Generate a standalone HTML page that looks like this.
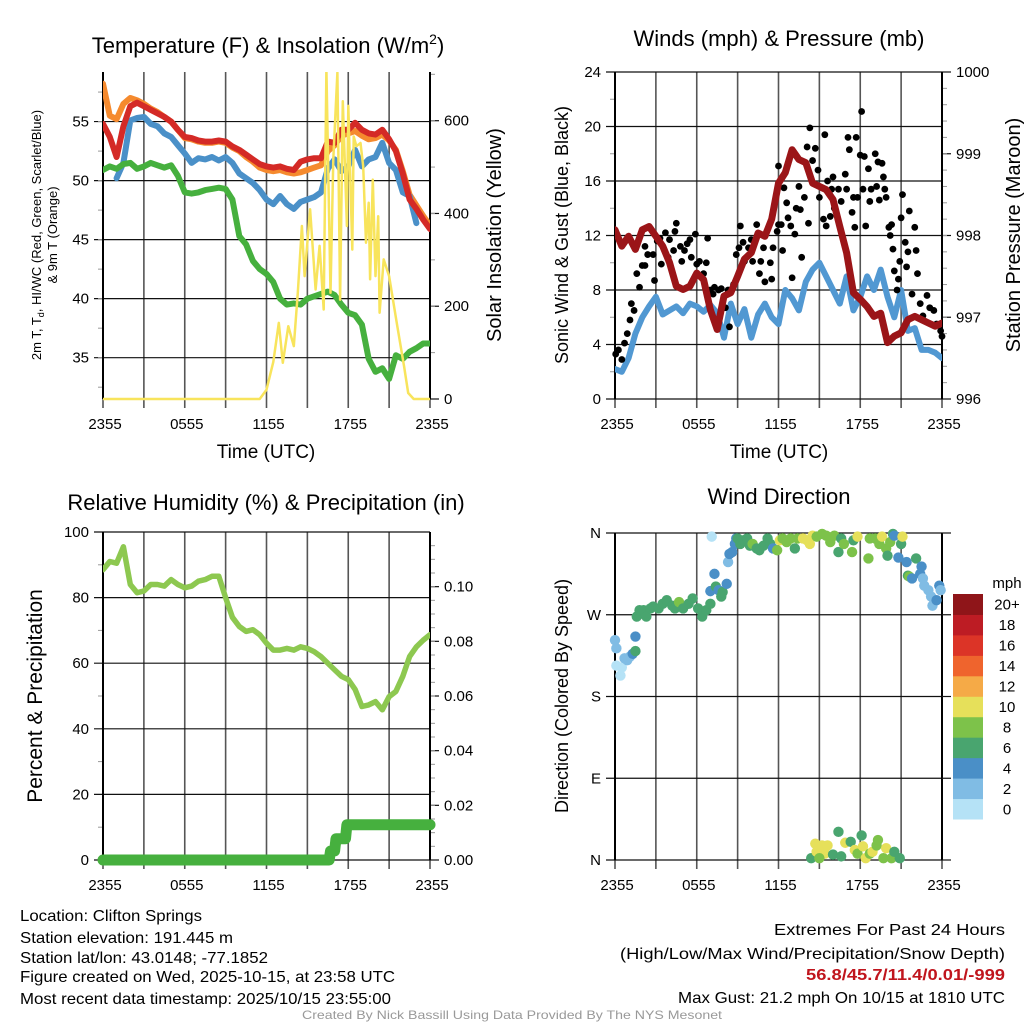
<!DOCTYPE html>
<html><head><meta charset="utf-8"><title>Clifton Springs Meteogram</title>
<style>
html,body{margin:0;padding:0;background:#fff;}
svg{display:block;font-family:"Liberation Sans",Arial,sans-serif;}
</style></head>
<body>
<svg id="fig" width="1024" height="1024" viewBox="0 0 1024 1024" xmlns="http://www.w3.org/2000/svg">
<rect x="0" y="0" width="1024" height="1024" fill="#fff"/>
<!-- Titles -->
<text x="268" y="53" font-size="22" text-anchor="middle">Temperature (F) &amp; Insolation (W/m<tspan font-size="14" dy="-9">2</tspan><tspan dy="9">)</tspan></text>
<text x="779" y="46" font-size="22" text-anchor="middle">Winds (mph) &amp; Pressure (mb)</text>
<text x="266" y="510" font-size="22" text-anchor="middle">Relative Humidity (%) &amp; Precipitation (in)</text>
<text x="779" y="504" font-size="22" text-anchor="middle">Wind Direction</text>
<!-- axis titles -->
<text x="266" y="458" font-size="19" text-anchor="middle">Time (UTC)</text>
<text x="779" y="458" font-size="19" text-anchor="middle">Time (UTC)</text>
<text transform="translate(41,235) rotate(-90)" font-size="13" text-anchor="middle">2m T, T<tspan font-size="9" dy="3">d</tspan><tspan dy="-3">, HI/WC (Red, Green, Scarlet/Blue)</tspan></text>
<text transform="translate(57,235) rotate(-90)" font-size="13" text-anchor="middle">&amp; 9m T (Orange)</text>
<text transform="translate(501,235) rotate(-90)" font-size="20" text-anchor="middle">Solar Insolation (Yellow)</text>
<text transform="translate(568,235) rotate(-90)" font-size="18" text-anchor="middle">Sonic Wind &amp; Gust (Blue, Black)</text>
<text transform="translate(1020,235) rotate(-90)" font-size="20" text-anchor="middle">Station Pressure (Maroon)</text>
<text transform="translate(42,696) rotate(-90)" font-size="21" text-anchor="middle">Percent &amp; Precipitation</text>
<text transform="translate(568,696) rotate(-90)" font-size="18" text-anchor="middle">Direction (Colored By Speed)</text>
<text x="1007" y="588" font-size="15" text-anchor="middle">mph</text>
<g id="layer"></g>
<g font-size="16">
<text x="20" y="921" textLength="182" lengthAdjust="spacingAndGlyphs">Location: Clifton Springs</text>
<text x="20" y="943" textLength="213" lengthAdjust="spacingAndGlyphs">Station elevation: 191.445 m</text>
<text x="20" y="963" textLength="248" lengthAdjust="spacingAndGlyphs">Station lat/lon: 43.0148; -77.1852</text>
<text x="20" y="982" textLength="375" lengthAdjust="spacingAndGlyphs">Figure created on Wed, 2025-10-15, at 23:58 UTC</text>
<text x="20" y="1004" textLength="371" lengthAdjust="spacingAndGlyphs">Most recent data timestamp: 2025/10/15 23:55:00</text>
</g>
<g font-size="16">
<text x="774" y="935" textLength="231" lengthAdjust="spacingAndGlyphs">Extremes For Past 24 Hours</text>
<text x="620" y="959" textLength="385" lengthAdjust="spacingAndGlyphs">(High/Low/Max Wind/Precipitation/Snow Depth)</text>
<text x="806" y="980" textLength="199" lengthAdjust="spacingAndGlyphs" font-weight="bold" fill="#c0151d">56.8/45.7/11.4/0.01/-999</text>
<text x="678" y="1003" textLength="327" lengthAdjust="spacingAndGlyphs">Max Gust: 21.2 mph On 10/15 at 1810 UTC</text>
</g>
<text x="302" y="1019" font-size="12" fill="#999" textLength="420" lengthAdjust="spacingAndGlyphs">Created By Nick Bassill Using Data Provided By The NYS Mesonet</text>
</svg>
<script>
// ---------- DATA ----------
const hours = [0,0.5,1,1.5,2,2.5,3,3.5,4,4.5,5,5.5,6,6.5,7,7.5,8,8.5,9,9.5,10,10.5,11,11.5,12,12.5,13,13.5,14,14.5,15,15.5,16,16.5,17,17.5,18,18.5,19,19.5,20,20.5,21,21.5,22,22.5,23,23.5,24];
const timeTickLabels = ["2355","0555","1155","1755","2355"];
const timeTickHours = [0,6,12,18,24];
const gridHours = [0,3,6,9,12,15,18,21,24];

const temp2m = [54.8,53.7,52.0,54.6,56.3,56.6,56.3,56.0,55.7,55.4,55.0,54.3,53.7,53.6,53.4,53.3,53.3,53.4,53.3,52.9,52.6,52.2,51.8,51.4,51.2,51.1,51.2,51.0,50.9,51.6,51.8,51.9,51.9,53.3,53.2,54.3,54.3,54.9,54.3,54.0,53.9,54.3,53.5,52.5,50.6,48.4,47.6,46.7,45.9];
const temp9m = [58.2,55.5,55.2,56.5,57.0,56.8,56.5,56.1,55.8,55.4,55.0,54.3,53.6,53.5,53.3,53.2,53.2,53.3,53.2,52.8,52.5,52.0,51.6,51.1,50.9,50.8,50.9,50.7,50.6,50.7,50.9,51.1,51.3,52.5,53.0,53.8,54.0,54.2,53.8,53.5,53.6,53.9,53.4,52.6,50.8,48.8,47.9,47.0,46.2];
const heatIndexWindChill = [null,null,50.2,51.5,55.1,55.3,55.4,54.8,54.6,54.0,53.7,53.0,52.3,51.5,51.9,51.8,52.0,51.7,52.0,51.5,50.6,50.2,49.8,49.2,48.4,48.0,48.7,48.0,47.6,48.2,48.4,48.6,49.0,51.0,51.8,50.8,51.2,52.6,51.2,51.8,52.0,53.2,51.5,50.9,49.0,48.7,46.4,null,null];
const dewpoint = [50.9,51.2,51.0,51.4,51.5,51.0,51.2,51.5,51.3,51.1,51.3,50.4,49.0,48.9,49.0,49.2,49.3,49.4,49.3,48.4,45.3,44.6,43.2,42.5,42.1,41.4,40.0,39.5,39.6,39.5,40.0,40.2,40.4,40.6,40.3,39.5,38.8,38.6,37.8,34.9,33.8,34.1,33.2,35.2,34.9,35.5,35.8,36.2,36.2];
const tempTickLabels = ["35","40","45","50","55"];
const tempTickValues = [35,40,45,50,55];

const solarHours = [0,11.5,12,12.5,12.9,13.2,13.6,14.0,14.3,14.6,14.8,15.2,15.6,15.9,16.2,16.4,16.7,16.9,17.2,17.4,17.6,17.9,18.0,18.3,18.4,18.6,18.9,19.1,19.3,19.5,19.6,19.8,20.0,20.2,20.3,20.6,21.0,21.6,22.1,22.4,22.8,24];
const solarValues = [0,0,20,80,164,78,157,114,229,373,265,409,236,330,193,711,229,517,704,214,642,373,632,322,566,545,552,502,337,423,258,473,265,394,186,301,265,157,70,13,0,0];
const solarTickLabels = ["0","200","400","600"];
const solarTickValues = [0,200,400,600];

const windSpeed = [2.2,2.0,3.0,4.8,6.0,6.8,7.5,6.2,6.5,6.8,6.3,7.0,6.8,6.4,6.9,6.3,4.5,7.0,5.5,6.6,4.5,6.2,7.0,6.0,5.5,8.0,7.4,6.5,8.6,9.5,10.0,9.0,8.0,7.0,9.0,6.5,7.5,9.0,8.0,9.5,7.5,6.0,8.0,5.0,5.2,3.6,3.6,3.4,3.0];
const pressure = [998.07,997.87,997.99,997.83,998.07,998.11,997.99,997.87,997.67,997.38,997.34,997.38,997.54,997.46,997.09,996.85,997.26,997.30,997.50,997.71,997.79,998.03,997.99,998.20,998.64,998.77,999.05,998.93,998.89,998.64,998.60,998.56,998.44,998.11,997.79,997.30,997.22,997.13,997.01,997.05,996.69,996.77,996.81,996.97,997.01,996.97,996.93,996.89,996.93];
const gustHours = [0.05,0.25,0.5,0.7,0.9,1.1,1.2,1.4,1.6,1.8,2.0,2.2,2.2,2.4,2.8,2.9,3.1,3.3,3.4,3.7,3.9,4.0,4.3,4.4,4.5,4.8,4.9,5.1,5.3,5.5,5.6,5.9,6.0,6.2,6.5,6.7,6.8,7.0,7.2,7.3,7.6,7.8,8.1,8.3,8.4,8.7,8.9,9.1,9.2,9.4,9.5,9.8,10.0,10.1,10.4,10.6,10.7,10.9,11.0,11.4,11.5,11.6,11.9,12.0,12.0,12.2,12.3,12.4,12.6,12.7,12.9,13.0,13.2,13.3,13.5,13.6,13.7,13.9,14.1,14.2,14.3,14.5,14.7,14.9,15.0,15.2,15.3,15.4,15.5,15.6,15.8,15.9,16.0,16.1,16.4,16.6,16.9,17.0,17.1,17.2,17.4,17.5,17.6,17.7,17.8,18.0,18.1,18.2,18.3,18.4,18.6,18.7,18.8,19.1,19.2,19.3,19.4,19.6,19.7,19.8,19.9,20.1,20.2,20.3,20.4,20.5,20.7,20.8,20.9,21.0,21.1,21.3,21.4,21.5,21.6,21.8,22.0,22.1,22.2,22.4,22.6,22.9,23.1,23.4,23.6,23.9,24.0];
const gustValues = [3.3,3.6,2.9,4.1,4.8,5.8,7.0,6.5,9.2,8.2,9.8,9.8,11.2,10.6,10.6,8.7,11.6,11.8,9.9,12.2,10.4,11.7,10.9,12.3,12.9,11.2,10.1,10.9,11.4,11.7,10.4,12.1,9.9,10.1,9.2,10.0,11.8,8.0,7.7,8.2,8.0,8.1,6.7,8.0,5.3,8.4,10.6,11.1,12.7,11.5,10.1,11.1,11.7,10.1,12.8,9.2,10.1,11.1,8.6,10.0,8.8,11.1,12.3,12.8,17.1,12.8,10.9,15.5,14.4,13.3,12.7,8.9,12.1,14.0,15.6,13.9,10.4,14.8,18.5,12.9,19.9,17.5,18.4,16.8,14.8,15.5,13.2,19.4,12.7,16.0,13.4,15.4,16.3,14.0,15.4,14.5,16.5,15.4,19.2,18.3,13.7,14.8,12.6,19.2,14.8,17.9,21.1,15.4,17.8,12.7,16.9,14.5,15.4,18.0,15.6,17.4,14.6,17.3,16.3,15.4,14.8,12.6,12.0,12.8,11.0,9.4,8.0,8.8,10.1,13.3,15.0,11.5,9.7,10.8,13.8,7.7,12.6,10.9,9.2,7.0,6.1,7.6,6.7,6.5,5.5,5.0,4.6];
const windTickLabels = ["0","4","8","12","16","20","24"];
const windTickValues = [0,4,8,12,16,20,24];
const pressureTickLabels = ["996","997","998","999","1000"];
const pressureTickValues = [996,997,998,999,1000];

const relHumidity = [88.5,91,90.5,95.5,84,81.5,82,84,84,83.5,85.5,84,83,83.5,85,85.5,86.5,86.5,80,74,71.2,69.7,70.2,68.7,66.1,64,64,64.5,64,65,64.5,63.5,62,60,58,56,55,52,46.8,47.3,48.3,45.8,49.8,51.4,56,62,65,67,68.7];
const precipHours = [0,16.6,16.7,17.0,17.1,17.8,17.9,24];
const precipValues = [0,0,0.0033,0.0033,0.0078,0.0078,0.0129,0.0129];
const rhTickLabels = ["0","20","40","60","80","100"];
const rhTickValues = [0,20,40,60,80,100];
const precipTickLabels = ["0.00","0.02","0.04","0.06","0.08","0.10"];
const precipTickValues = [0,0.02,0.04,0.06,0.08,0.10];

const dirHours = [0,0.1,0.1,0.4,0.5,0.7,0.9,1.1,1.3,1.5,1.5,1.6,1.8,2.1,2.3,2.6,2.8,3.2,3.5,3.8,4.2,4.4,4.7,5.0,5.4,5.7,6.1,6.4,6.7,7.0,7.0,7.3,7.4,7.6,7.8,7.9,8.2,8.3,8.4,8.6,8.8,8.9,9.0,9.2,9.4,9.7,9.9,10.1,10.4,10.6,10.9,11.2,11.4,11.6,11.9,12.1,12.3,12.6,12.9,13.2,13.4,13.8,14.1,14.3,14.5,14.8,15.2,15.5,15.8,16.1,16.4,16.6,16.8,17.4,17.5,17.8,18.6,18.7,19.1,19.4,19.6,19.9,20.0,20.2,20.4,20.5,20.8,21.0,21.1,21.4,21.5,21.6,21.8,22.1,22.4,22.5,22.6,22.7,23.0,23.2,23.3,23.6,23.8,23.9,7.1,
14.4,14.7,14.8,15.2,15.4,15.6,16.0,16.4,16.6,16.9,17.3,17.6,17.8,18.1,18.2,18.4,18.7,18.9,19.2,19.3,19.7,19.9,20.3,20.5,20.9,15.0];
const dirDegrees = [242,233,214,203,212,222,220,224,227,230,246,268,275,275,268,277,279,277,282,286,280,277,284,277,282,288,277,268,275,282,296,315,301,297,290,295,304,328,337,339,348,354,354,348,352,354,346,348,343,341,346,354,348,343,341,352,354,350,354,343,354,354,352,348,357,356,359,357,350,357,339,354,348,339,352,356,332,354,354,348,356,343,335,350,359,357,333,348,356,328,313,312,310,332,315,323,310,302,297,290,280,286,302,297,356,
2,18,9,16,7,16,6,31,4,19,20,11,7,27,15,2,7,9,16,22,2,13,2,9,2,2];
const dirSpeeds = [2,2,1,1,1,2,3,3,4,6,4,6,6,6,7,6,6,6,6,6,6,6,8,6,6,6,6,7,6,6,4,4,6,4,6,6,4,2,4,4,4,4,6,6,6,6,6,8,6,6,6,6,6,4,8,10,8,8,8,6,8,10,10,10,10,8,8,8,8,8,6,6,8,8,6,10,8,8,8,8,10,8,6,8,6,4,4,6,10,4,6,8,4,6,4,4,2,2,2,2,2,4,4,2,1,
6,10,10,10,10,10,6,6,6,10,6,10,8,6,10,10,8,10,8,8,8,10,8,6,6,8];
const dirTickLabels = ["N","E","S","W","N"];
const dirTickValues = [0,90,180,270,360];
const speedBinLabels = ["0","2","4","6","8","10","12","14","16","18","20+"];
const speedBinColors = ["#b5e2f6","#80bce4","#4a8fc7","#49a56f","#7dc24a","#e6e05a","#f5aa47","#ef642d","#dc3427","#bd1c24","#8f1519"];

// ---------- HELPERS ----------
const NS = "http://www.w3.org/2000/svg";
const layer = document.getElementById("layer");
function mk(tag, attrs, parent) {
  const e = document.createElementNS(NS, tag);
  for (const k in attrs) e.setAttribute(k, attrs[k]);
  (parent || layer).appendChild(e);
  return e;
}
function scale(d0, d1, r0, r1) { return v => r0 + (v - d0) / (d1 - d0) * (r1 - r0); }
function pathFrom(xs, ys, xf, yf) {
  let d = "", pen = false;
  for (let i = 0; i < xs.length; i++) {
    if (ys[i] === null || ys[i] === undefined) { pen = false; continue; }
    d += (pen ? "L" : "M") + xf(xs[i]).toFixed(1) + "," + yf(ys[i]).toFixed(1);
    pen = true;
  }
  return d;
}

const P = {
  temp: {x0:103,x1:430,y0:72,y1:399},
  wind: {x0:615,x1:942,y0:72,y1:399},
  rh:   {x0:103,x1:430,y0:532,y1:860},
  dir:  {x0:615,x1:942,y0:533,y1:860}
};

function drawFrame(p, key, leftVals, leftLabels, leftScale, rightVals, rightLabels, rightScale, minorLeft, minorRight) {
  const g = mk("g", {});
  
  
  const xs = scale(0, 24, p.x0, p.x1);
  gridHours.forEach(h => {
    const l = mk("line", {x1:xs(h),x2:xs(h),y1:p.y0,y2:p.y1+9,stroke:"#555","stroke-width":1.6}, g);
    
    
  });
  leftVals.forEach((v, i) => {
    const y = leftScale(v);
    const l = mk("line", {x1:p.x0-9,x2:p.x1,y1:y,y2:y,stroke:"#111","stroke-width":1.2}, g);
    
    
    const t = mk("text", {x:p.x0-14,y:y+5,"font-size":15,"text-anchor":"end"}, g);
    t.textContent = leftLabels[i];
    
    
  });
  if (rightVals) rightVals.forEach((v, i) => {
    const y = rightScale(v);
    const l = mk("line", {x1:p.x1,x2:p.x1+9,y1:y,y2:y,stroke:"#111","stroke-width":1.2}, g);
    
    
    const t = mk("text", {x:p.x1+14,y:y+5,"font-size":15,"text-anchor":"start"}, g);
    t.textContent = rightLabels[i];
    
    
  });
  (minorLeft||[]).forEach(v => {
    const y = leftScale(v);
    const l = mk("line", {x1:p.x0-5,x2:p.x0,y1:y,y2:y,stroke:"#999","stroke-width":1}, g);
    
    
  });
  (minorRight||[]).forEach(v => {
    const y = rightScale(v);
    const l = mk("line", {x1:p.x1,x2:p.x1+5,y1:y,y2:y,stroke:"#999","stroke-width":1}, g);
    
    
  });
  timeTickHours.forEach((h, i) => {
    const t = mk("text", {x:xs(h)+2,y:p.y1+30,"font-size":15,"text-anchor":"middle"}, g);
    t.textContent = timeTickLabels[i];
    
    
  });
  const ax = mk("path", {d:`M${p.x0},${p.y0}L${p.x0},${p.y1}M${p.x1},${p.y0}L${p.x1},${p.y1}`,stroke:"#000","stroke-width":2,fill:"none"}, g);
  
  
  return xs;
}
function clipFor(p, id) {
  const cp = mk("clipPath", {id:id});
  mk("rect", {x:p.x0,y:p.y0,width:p.x1-p.x0,height:p.y1-p.y0+8}, cp);
  return "url(#" + id + ")";
}
function series(xs, ys, xf, yf, color, w, clip) {
  const e = mk("path", {d:pathFrom(xs, ys, xf, yf),stroke:color,"stroke-width":w,fill:"none","stroke-linejoin":"round","stroke-linecap":"round"});
  if (clip) e.setAttribute("clip-path", clip);
  return e;
}
function halfSteps(a, b, s) { const r = []; for (let v = a; v <= b + 1e-9; v += s) r.push(v); return r; }

// ---------- PANEL 1: Temperature ----------
(function(){
  const p = P.temp;
  const yT = scale(31.5, 59.2, p.y1, p.y0);
  const yS = scale(0, 705, p.y1, p.y0);
  const xs = drawFrame(p, "temperature", tempTickValues, tempTickLabels, yT, solarTickValues, solarTickLabels, yS, halfSteps(32.5,57.5,2.5), halfSteps(100,700,100));
  const clip = clipFor(p, "c1");
  const s1 = series(hours, temp9m, xs, yT, "#f58a2e", 6, clip);
  
  
  const s2 = series(hours, heatIndexWindChill, xs, yT, "#4a90c8", 6, clip);
  
  
  const s3 = series(hours, temp2m, xs, yT, "#d42a26", 6, clip);
  
  
  const s4 = series(hours, dewpoint, xs, yT, "#46b03e", 6, clip);
  
  
  const s5 = series(solarHours, solarValues, xs, yS, "#f8e45c", 2.5, clip);
  
  
})();

// ---------- PANEL 2: Winds ----------
(function(){
  const p = P.wind;
  const yW = scale(0, 24, p.y1, p.y0);
  const yP = scale(996, 1000, p.y1, p.y0);
  const xs = drawFrame(p, "winds", windTickValues, windTickLabels, yW, pressureTickValues, pressureTickLabels, yP, halfSteps(2,22,4), halfSteps(996.2,999.8,0.2));
  const clip = clipFor(p, "c2");
  const s1 = series(hours, windSpeed, xs, yW, "#5198d2", 6, clip);
  
  
  gustHours.forEach((h, i) => {
    const c = mk("circle", {cx:xs(h),cy:yW(gustValues[i]),r:3.4,fill:"#000"});
    
    
  });
  const s2 = series(hours, pressure, xs, yP, "#9b1518", 7, clip);
  
  
})();

// ---------- PANEL 3: RH & Precip ----------
(function(){
  const p = P.rh;
  const yR = scale(0, 100, p.y1, p.y0);
  const yQ = scale(0, 0.12, p.y1, p.y0);
  const xs = drawFrame(p, "humidity", rhTickValues, rhTickLabels, yR, precipTickValues, precipTickLabels, yQ, halfSteps(10,90,20), halfSteps(0.005,0.115,0.005));
  const s1 = series(hours, relHumidity, xs, yR, "#8dc850", 5.5, clipFor(p,"c3"));
  
  
  const s2 = series(precipHours, precipValues, xs, yQ, "#46b03e", 11, null);
  
  
})();

// ---------- PANEL 4: Wind Direction ----------
(function(){
  const p = P.dir;
  const yD = scale(0, 360, p.y1, p.y0);
  const xs = drawFrame(p, "direction", dirTickValues, dirTickLabels, yD, null, null, null, [], []);
  dirTickValues.forEach(v => {
    const l = mk("line", {x1:p.x1,x2:p.x1+9,y1:yD(v),y2:yD(v),stroke:"#111","stroke-width":1.2});
    
    
  });
  dirHours.forEach((h, i) => {
    const bin = Math.max(0, Math.min(10, Math.floor(dirSpeeds[i] / 2)));
    const c = mk("circle", {cx:xs(h),cy:yD(dirDegrees[i]),r:5.2,fill:speedBinColors[bin]});
    
    
  });
  const cb = {x:953,w:30,top:594,bottom:819};
  const bh = (cb.bottom - cb.top) / speedBinLabels.length;
  speedBinLabels.forEach((lab, i) => {
    const y = cb.bottom - (i + 1) * bh;
    const r = mk("rect", {x:cb.x,y:y,width:cb.w,height:bh+0.5,fill:speedBinColors[i]});
    
    
    const t = mk("text", {x:1007,y:y+bh/2+5.5,"font-size":15,"text-anchor":"middle"});
    t.textContent = lab;
    
    
  });
})();
</script>
</body></html>
